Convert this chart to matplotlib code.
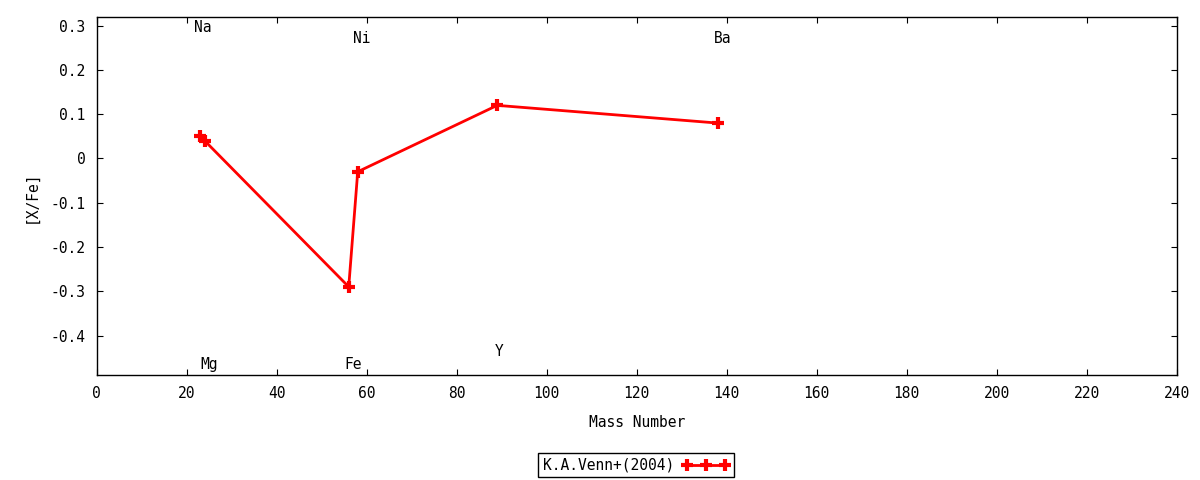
import numpy as np
import matplotlib.pyplot as plt

plt.rcParams['font.family'] = ['DejaVu Sans Mono']
plt.rcParams['font.size'] = 10

# Venn et al. (2004) abundances
elements = ['Na', 'Mg', 'Fe', 'Ni', 'Y', 'Ba']
mass = [23, 24, 56, 58, 89, 138]
xfe = [0.05, 0.04, -0.29, -0.03, 0.12, 0.08]

# element labels, placed where they sit in the figure
label_x = [23.5, 25, 57, 59, 89.5, 139]
label_y = [0.295, -0.465, -0.465, 0.27, -0.435, 0.27]

fig = plt.figure(figsize=(12, 4.8), dpi=100)
ax = fig.add_axes([0.0806, 0.218, 0.9, 0.746])

ax.plot(mass, xfe, color='red', lw=2, marker='+', ms=9, mew=3,
        label='K.A.Venn+(2004)')

for el, lx, ly in zip(elements, label_x, label_y):
    ax.text(lx, ly, el, ha='center', va='center', fontsize=10.5)

ax.set_xlim(0, 240)
ax.set_ylim(-0.49, 0.319)
ax.set_xticks(np.arange(0, 241, 20))
ax.set_yticks([-0.4, -0.3, -0.2, -0.1, 0, 0.1, 0.2, 0.3])
ax.set_yticklabels(['-0.4', '-0.3', '-0.2', '-0.1', '0', '0.1', '0.2', '0.3'])
ax.tick_params(direction='in', length=4.5, top=True, right=True, pad=8,
               labelsize=10.5)
for s in ax.spines.values():
    s.set_linewidth(1)

ax.set_xlabel('Mass Number', labelpad=10, fontsize=10.5)
ax.set_ylabel('[X/Fe]', labelpad=9, fontsize=10.5)

leg = fig.legend(loc='center', bbox_to_anchor=(0.53, 0.031), markerfirst=False,
                 handlelength=3.2, numpoints=3, fancybox=False, edgecolor='black',
                 framealpha=1, borderpad=0.3, borderaxespad=0, handletextpad=0.6,
                 prop={'size': 10.5})
leg.get_frame().set_linewidth(1)

plt.savefig('out.png', dpi=100)
